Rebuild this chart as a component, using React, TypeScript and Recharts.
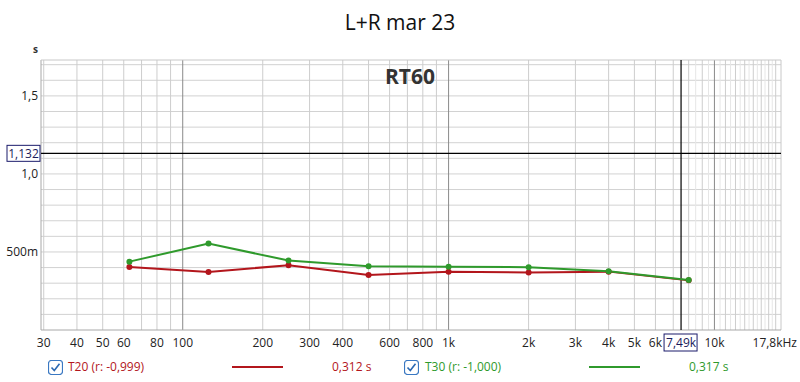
import { LineChart, Line, XAxis, YAxis, ReferenceLine } from 'recharts';

const freqs = [63, 125, 250, 500, 1000, 2000, 4000, 8000];
const t20 = [0.404, 0.372, 0.415, 0.353, 0.374, 0.368, 0.374, 0.318];
const t30 = [0.438, 0.554, 0.445, 0.408, 0.406, 0.402, 0.376, 0.32];

const xTicks = [30, 40, 50, 60, 80, 100, 200, 300, 400, 600, 800, 1000, 2000, 3000, 4000, 5000, 6000, 7490, 10000, 17800];
const xTickLabels = ['30', '40', '50', '60', '80', '100', '200', '300', '400', '600', '800', '1k', '2k', '3k', '4k', '5k', '6k', '7,49k', '10k', '17,8kHz'];
const yTicks = [0.5, 1.0, 1.132, 1.5];
const yTickLabels = ['500m', '1,0', '1,132', '1,5'];

const minorFreqs = [30, 40, 50, 60, 70, 80, 90, 200, 300, 400, 500, 600, 700, 800, 900, 2000, 3000, 4000, 5000, 6000, 7000, 8000, 9000, 11000, 12000, 13000, 14000, 15000, 16000, 17000];
const fineFreqs = [8500, 9500, 10500, 11500, 12500, 13500, 14500, 15500, 16500];
const majorFreqs = [100, 1000, 10000];
const yGrid = [0.1, 0.2, 0.3, 0.4, 0.5, 0.6, 0.7, 0.8, 0.9, 1.0, 1.1, 1.2, 1.3, 1.4, 1.5, 1.6, 1.7];

const cursorFreq = 7490;
const cursorValue = 1.132;
const X_MIN = 29.3;
const X_MAX = 17800;
const Y_MAX = 1.73;

const RED = '#b3161c';
const GREEN = '#2f9a2c';
const FONT = '"Open Sans", "Noto Sans", sans-serif';

const data = freqs.map((f, i) => ({ freq: f, t20: t20[i], t30: t30[i] }));

function XTick(props: any) {
  const { x, y, payload } = props;
  const idx = xTicks.indexOf(payload.value);
  const label = xTickLabels[idx] ?? '';
  if (payload.value === cursorFreq) {
    return (
      <g>
        <rect x={x - 17} y={y + 4} width={33} height={17} fill="#fff" stroke="#1b1b6b" strokeWidth={1} />
        <text x={x} y={y + 17} textAnchor="middle" fontSize={12} fontFamily={FONT} fill="#1b1b5b">{label}</text>
      </g>
    );
  }
  if (payload.value === X_MAX) {
    return <text x={x + 16} y={y + 17} textAnchor="end" fontSize={12} fontFamily={FONT} fill="#222">{label}</text>;
  }
  return <text x={x} y={y + 17} textAnchor="middle" fontSize={12} fontFamily={FONT} fill="#222">{label}</text>;
}

function YTick(props: any) {
  const { x, y, payload } = props;
  const idx = yTicks.indexOf(payload.value);
  const label = yTickLabels[idx] ?? '';
  if (payload.value === cursorValue) {
    return (
      <g>
        <rect x={7} y={y - 8} width={33} height={16} fill="#fff" stroke="#1b1b6b" strokeWidth={1} />
        <text x={23.5} y={y + 4.5} textAnchor="middle" fontSize={12} fontFamily={FONT} fill="#1b1b5b">{label}</text>
      </g>
    );
  }
  return <text x={x - 3} y={y + 4.5} textAnchor="end" fontSize={12} fontFamily={FONT} fill="#222">{label}</text>;
}

function CheckBox({ left }: { left: number }) {
  return (
    <svg style={{ position: 'absolute', left, top: 360 }} width={15} height={15}>
      <rect x={0.5} y={0.5} width={14} height={14} rx={3} fill="#fff" stroke="#3a78c2" strokeWidth={1.2} />
      <path d="M3.5 7.5 L6.3 10.5 L11.5 3.8" fill="none" stroke="#2a68b2" strokeWidth={1.6} />
    </svg>
  );
}

const textStyle = (left: number, color: string): React.CSSProperties => ({
  position: 'absolute',
  left,
  top: 358,
  fontSize: 12,
  fontFamily: FONT,
  color,
  lineHeight: '17px',
  whiteSpace: 'nowrap',
});

export default function App() {
  return (
    <div style={{ position: 'relative', width: 800, height: 382, background: '#fff', fontFamily: FONT }}>
      <style>{'body{margin:0}'}</style>
      <LineChart width={800} height={382} data={data} margin={{ top: 60, right: 19, bottom: 0, left: 0 }}>
        <XAxis
          dataKey="freq"
          type="number"
          scale="log"
          domain={[X_MIN, X_MAX]}
          allowDataOverflow
          ticks={xTicks}
          interval={0}
          height={52}
          tickSize={0}
          tickMargin={0}
          axisLine={false}
          tick={<XTick />}
        />
        <YAxis
          type="number"
          domain={[0, Y_MAX]}
          allowDataOverflow
          ticks={yTicks}
          interval={0}
          width={41}
          tickSize={0}
          tickMargin={0}
          axisLine={false}
          tick={<YTick />}
        />
        {yGrid.map((v) => (
          <ReferenceLine key={'h' + v} y={v} stroke="#d2d2d2" strokeWidth={1} />
        ))}
        {fineFreqs.map((f) => (
          <ReferenceLine key={'f' + f} x={f} stroke="#e6e6e6" strokeWidth={1} />
        ))}
        {minorFreqs.map((f) => (
          <ReferenceLine key={'m' + f} x={f} stroke="#cdcdcd" strokeWidth={1} />
        ))}
        {majorFreqs.map((f) => (
          <ReferenceLine key={'M' + f} x={f} stroke="#8a8a8a" strokeWidth={1} />
        ))}
        <ReferenceLine x={X_MIN} stroke="#a8a8a8" />
        <ReferenceLine x={X_MAX} stroke="#c8c8c8" />
        <ReferenceLine y={0} stroke="#a8a8a8" />
        <ReferenceLine y={Y_MAX} stroke="#c8c8c8" />
        <ReferenceLine y={cursorValue} stroke="#000" strokeWidth={1.2} />
        <ReferenceLine x={cursorFreq} stroke="#000" strokeWidth={1.2} />
        <Line
          dataKey="t20"
          stroke={RED}
          strokeWidth={2}
          dot={{ r: 3, fill: RED, stroke: RED, strokeWidth: 0 }}
          isAnimationActive={false}
        />
        <Line
          dataKey="t30"
          stroke={GREEN}
          strokeWidth={2}
          dot={{ r: 3, fill: GREEN, stroke: GREEN, strokeWidth: 0 }}
          isAnimationActive={false}
        />
      </LineChart>

      <div style={{ position: 'absolute', left: 0, width: 800, top: 7, textAlign: 'center', fontSize: 21, color: '#111', lineHeight: '30px' }}>
        L+R mar 23
      </div>
      <div style={{ position: 'absolute', left: 360, width: 100, top: 61, textAlign: 'center', fontSize: 21, fontWeight: 700, color: '#333', lineHeight: '30px' }}>
        RT60
      </div>
      <div style={{ position: 'absolute', left: 33, top: 42, fontSize: 10, fontWeight: 700, color: '#333' }}>s</div>

      <CheckBox left={48} />
      <div style={textStyle(68, RED)}>T20 (r: -0,999)</div>
      <div style={{ position: 'absolute', left: 232, top: 366, width: 51, height: 2, background: RED }} />
      <div style={textStyle(332, RED)}>0,312 s</div>

      <CheckBox left={404} />
      <div style={textStyle(425, GREEN)}>T30 (r: -1,000)</div>
      <div style={{ position: 'absolute', left: 589, top: 366, width: 51, height: 2, background: GREEN }} />
      <div style={textStyle(689, GREEN)}>0,317 s</div>
    </div>
  );
}
